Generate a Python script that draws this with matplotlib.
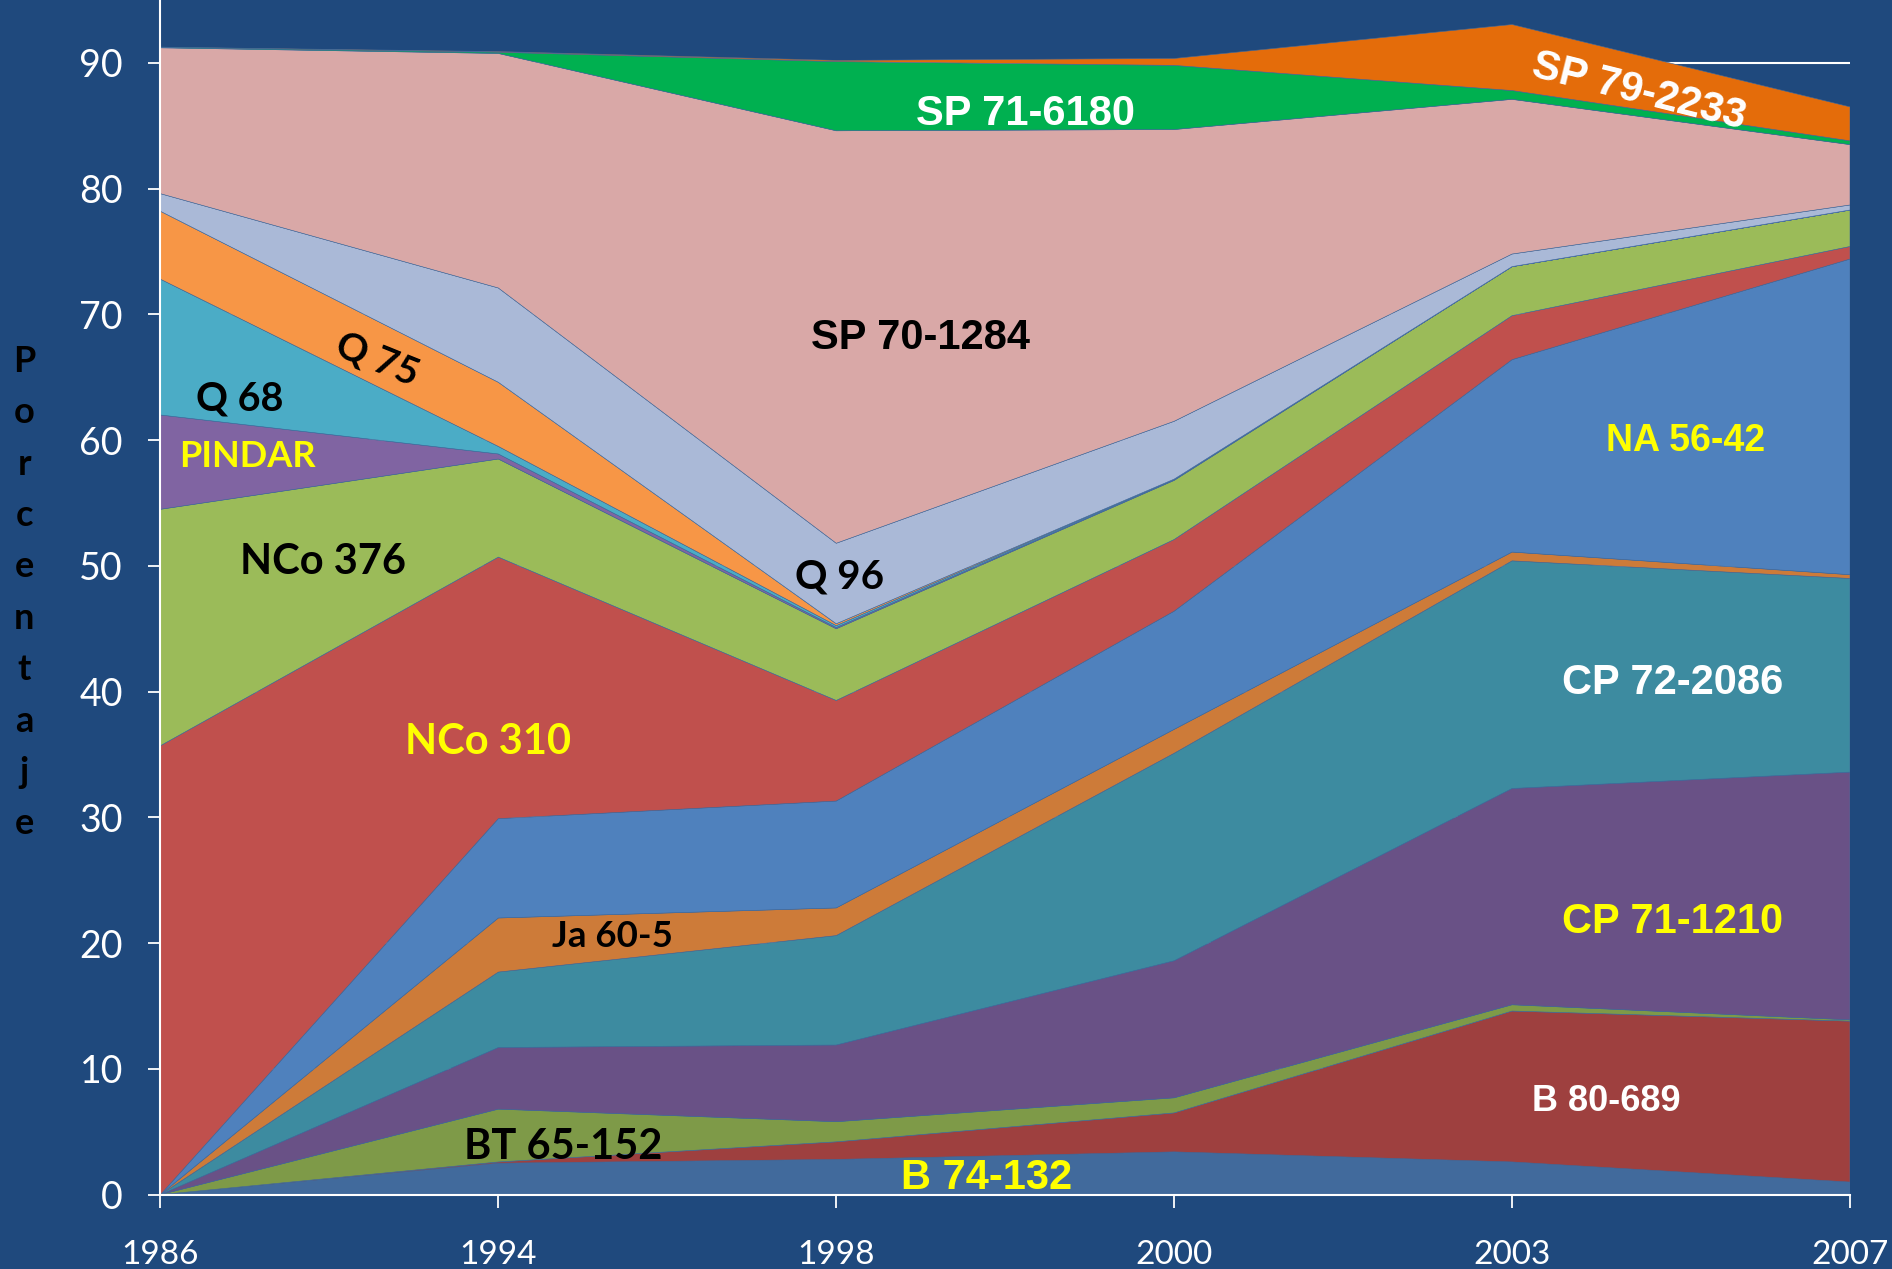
import matplotlib
matplotlib.use("Agg")
import matplotlib.pyplot as plt
import numpy as np

# ==========================================================
# Data (percent of area per variety, stacked bottom -> top)
# ==========================================================

years = ["1986", "1994", "1998", "2000", "2003", "2007"]

b74_132 = [0.0, 2.5, 2.8, 3.4, 2.6, 1.0]
b80_689 = [0.0, 0.1, 1.4, 3.1, 12.0, 12.8]
bt65_152 = [0.0, 4.2, 1.6, 1.2, 0.5, 0.1]
cp71_1210 = [0.0, 4.9, 6.1, 10.9, 17.2, 19.7]
cp72_2086 = [0.0, 6.0, 8.7, 16.5, 18.1, 15.4]
ja60_5 = [0.0, 4.3, 2.2, 1.9, 0.7, 0.3]
na56_42 = [0.0, 7.9, 8.5, 9.4, 15.3, 25.1]
nco310 = [35.7, 20.8, 8.0, 5.7, 3.5, 1.0]
nco376 = [18.8, 7.8, 5.7, 4.7, 3.9, 2.9]
pindar = [7.5, 0.4, 0.1, 0.05, 0.0, 0.0]
q68 = [10.8, 0.6, 0.15, 0.05, 0.0, 0.0]
q75 = [5.4, 5.1, 0.15, 0.0, 0.0, 0.0]
q96 = [1.4, 7.5, 6.4, 4.6, 1.0, 0.4]
sp70_1284 = [11.6, 18.65, 32.8, 23.2, 12.3, 4.8]
sp71_6180 = [0.05, 0.1, 5.5, 5.1, 0.7, 0.3]
sp79_2233 = [0.0, 0.05, 0.1, 0.55, 5.25, 2.7]

series = [b74_132, b80_689, bt65_152, cp71_1210, cp72_2086, ja60_5, na56_42,
          nco310, nco376, pindar, q68, q75, q96, sp70_1284, sp71_6180, sp79_2233]

colors = ["#416A9C", "#9E403F", "#7E9A48", "#695186", "#3D8BA0", "#CD7B39",
          "#4F81BD", "#C0504D", "#9BBB59", "#8064A2", "#4BACC6", "#F79646",
          "#AAB9D7", "#D9A8A7", "#00B050", "#E46C0A"]

# ==========================================================
# In-chart labels: text, x (category index), y, colour, font, size, rotation
# ==========================================================

ARIAL = ["Liberation Sans", "DejaVu Sans"]
CALIBRI = ["Lato", "DejaVu Sans"]

labels = [
    ("SP 71-6180", 2.56, 85.9, "white", ARIAL, 30, 0),
    ("SP 79-2233", 4.375, 87.7, "white", ARIAL, 30, -14),
    ("SP 70-1284", 2.25, 68.1, "black", ARIAL, 30, 0),
    ("Q 75", 0.64, 66.4, "black", CALIBRI, 28, -22),
    ("Q 68", 0.236, 63.3, "black", CALIBRI, 28.5, 0),
    ("PINDAR", 0.257, 58.7, "#FFFF00", CALIBRI, 26, 0),
    ("NCo 376", 0.482, 50.3, "black", CALIBRI, 30, 0),
    ("Q 96", 2.01, 49.1, "black", CALIBRI, 29, 0),
    ("NA 56-42", 4.514, 59.9, "#FFFF00", ARIAL, 27, 0),
    ("CP 72-2086", 4.475, 40.7, "white", ARIAL, 30, 0),
    ("NCo 310", 0.971, 36.0, "#FFFF00", CALIBRI, 30, 0),
    ("Ja 60-5", 1.339, 20.5, "black", CALIBRI, 26.5, 0),
    ("CP 71-1210", 4.475, 21.7, "#FFFF00", ARIAL, 30, 0),
    ("B 80-689", 4.279, 7.4, "white", ARIAL, 26, 0),
    ("BT 65-152", 1.193, 3.8, "black", CALIBRI, 30, 0),
    ("B 74-132", 2.446, 1.3, "#FFFF00", ARIAL, 30, 0),
]

# ==========================================================
# Plot
# ==========================================================

BG = "#1F497D"

fig = plt.figure(figsize=(18.92, 12.69), dpi=100, facecolor=BG)
ax = fig.add_axes([0.0848, 0.0586, 0.893, 0.9414])
ax.set_facecolor(BG)

x = np.arange(len(years))
ax.stackplot(x, *series, colors=colors, linewidth=0.4, edgecolors=colors, zorder=2)

ax.set_xlim(0, len(years) - 1)
ax.set_ylim(0, 95)
ax.set_xticks(x)
ax.set_xticklabels(years)
ax.set_yticks(np.arange(0, 91, 10))

ax.set_axisbelow(True)
ax.yaxis.grid(True, color="white", linewidth=1.5)

for side in ["top", "right"]:
    ax.spines[side].set_visible(False)
for side in ["left", "bottom"]:
    ax.spines[side].set_color("white")
    ax.spines[side].set_linewidth(1.5)
    ax.spines[side].set_zorder(5)

ax.tick_params(axis="y", colors="white", length=9, width=1.3, pad=18, labelsize=27)
ax.tick_params(axis="x", colors="white", length=9, width=1.3, pad=24, labelsize=24)
for lab in ax.get_xticklabels() + ax.get_yticklabels():
    lab.set_family(CALIBRI)

for text, lx, ly, col, fam, size, rot in labels:
    ax.text(lx, ly, text, color=col, family=fam, fontsize=size, fontweight="bold",
            rotation=rot, ha="center", va="center", zorder=6, rotation_mode="anchor")

# vertical axis title, one letter per line
fig.text(0.0127, 0.533, "\n".join("Porcentaje"), color="black", family=CALIBRI,
         fontsize=26, fontweight="bold", ha="center", va="center", linespacing=1.68)

fig.savefig("out.png", dpi=100, facecolor=BG)
